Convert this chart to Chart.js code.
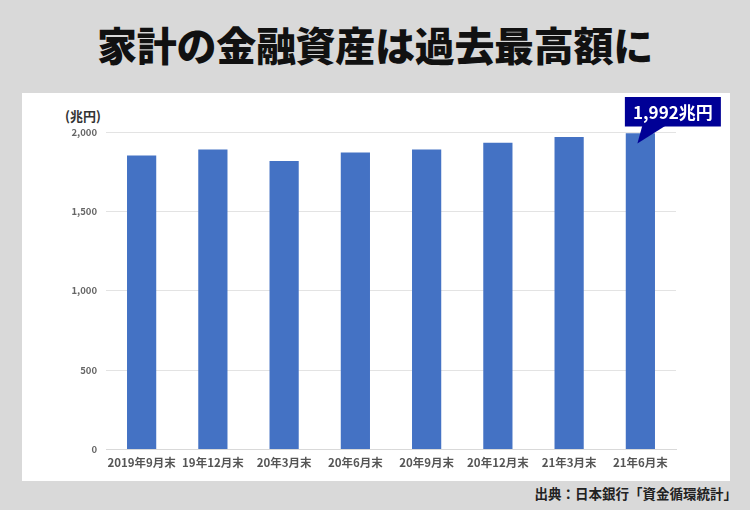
<!DOCTYPE html>
<html>
<head>
<meta charset="utf-8">
<script src="https://cdn.jsdelivr.net/npm/chart.js@4/dist/chart.umd.min.js"></script>
<style>
  html, body { margin: 0; padding: 0; }
  body { width: 750px; height: 510px; background: #d9d9d9; position: relative; overflow: hidden;
         font-family: "Noto Sans CJK JP", "Noto Sans", sans-serif; }
  #title { position: absolute; left: 0; top: 17px; width: 750px; text-align: center;
           font-size: 40px; font-weight: 900; color: #111; line-height: 54px; letter-spacing: -0.3px; }
  #panel { position: absolute; left: 22px; top: 93px; width: 708px; height: 388px; background: #fff; }
  #unit { position: absolute; left: 43px; top: 13px; font-size: 13px; font-weight: 700; color: #333; }
  #src { position: absolute; right: 13px; top: 482px; font-size: 13.5px; font-weight: 700; color: #222; line-height: 22px; }
  canvas { position: absolute; left: 0; top: 0; }
</style>
</head>
<body>
<div id="title">家計の金融資産は過去最高額に</div>
<div id="panel">
  <div id="unit">(兆円)</div>
  <canvas id="c" width="708" height="388"></canvas>
</div>
<div id="src">出典：日本銀行「資金循環統計」</div>
<script>
const categories = ["2019年9月末", "19年12月末", "20年3月末", "20年6月末", "20年9月末", "20年12月末", "21年3月末", "21年6月末"];
const assets = [1852, 1889, 1818, 1871, 1889, 1932, 1968, 1992];
const yTicks = [0, 500, 1000, 1500, 2000];
const calloutText = "1,992兆円";

const callout = {
  id: 'callout',
  afterDatasetsDraw(chart) {
    const meta = chart.getDatasetMeta(0);
    const el = meta.data[meta.data.length - 1];
    const ctx = chart.ctx;
    const bx = el.x - 15.5, by = 4, bw = 96, bh = 29.5;
    ctx.save();
    ctx.fillStyle = '#000096';
    ctx.fillRect(bx, by, bw, bh);
    ctx.beginPath();
    ctx.moveTo(el.x + 2, by + bh - 1);
    ctx.lineTo(el.x + 25.5, by + bh - 1);
    ctx.lineTo(el.x - 3, by + bh + 17);
    ctx.closePath();
    ctx.fill();
    ctx.fillStyle = '#fff';
    ctx.font = '700 17px "Noto Sans CJK JP", sans-serif';
    ctx.textAlign = 'center';
    ctx.textBaseline = 'middle';
    ctx.fillText(calloutText, bx + bw / 2, by + bh / 2 + 1);
    ctx.restore();
  }
};

new Chart(document.getElementById('c'), {
  type: 'bar',
  data: {
    labels: categories,
    datasets: [{
      data: assets,
      backgroundColor: '#4472c4',
      barPercentage: 0.41,
      categoryPercentage: 1.0
    }]
  },
  options: {
    responsive: false,
    animation: false,
    events: [],
    layout: { padding: { left: 0, right: 54, top: 39, bottom: 0 } },
    plugins: { legend: { display: false }, tooltip: { enabled: false } },
    scales: {
      x: {
        grid: { display: false, drawTicks: false },
        border: { display: true, color: '#d9d9d9' },
        ticks: {
          color: '#555', padding: 6, maxRotation: 0, autoSkip: false,
          font: { family: '"Noto Sans CJK JP", sans-serif', size: 11.5, weight: '700' }
        },
        afterFit(s) { s.height = 31.5; }
      },
      y: {
        min: 0, max: 2000,
        afterBuildTicks(s) { s.ticks = yTicks.map(v => ({ value: v })); },
        grid: { color: '#e3e3e3', drawTicks: false },
        border: { display: false },
        ticks: {
          color: '#666', padding: 9,
          font: { family: '"Noto Sans CJK JP", sans-serif', size: 9.5, weight: '700' },
          callback: v => v.toLocaleString('en-US')
        },
        afterFit(s) { s.width = 84; }
      }
    }
  },
  plugins: [callout]
});
</script>
</body>
</html>
